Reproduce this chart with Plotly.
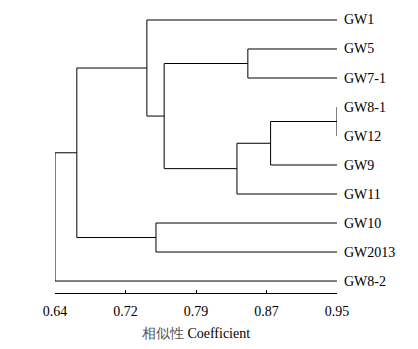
import plotly.graph_objects as go

# ---- data ----
leaves = ["GW1", "GW5", "GW7-1", "GW8-1", "GW12", "GW9", "GW11", "GW10", "GW2013", "GW8-2"]
# merges: (child_a, child_b, similarity); children are leaf names or "m<i>" (earlier merge index)
merge_a = ["GW8-1", "GW5", "m0", "m2", "m1", "GW1", "GW10", "m5", "m7"]
merge_b = ["GW12", "GW7-1", "GW9", "GW11", "m3", "m4", "GW2013", "m6", "GW8-2"]
merge_sim = [0.950, 0.852, 0.877, 0.840, 0.760, 0.741, 0.751, 0.664, 0.640]
tick_vals = [0.64, 0.7175, 0.795, 0.8725, 0.95]
tick_text = ["0.64", "0.72", "0.79", "0.87", "0.95"]
x_min, x_max = 0.64, 0.95

# ---- build dendrogram segments ----
pos = {name: (x_max, i) for i, name in enumerate(leaves)}
xs, ys = [], []
for i, (a, b, s) in enumerate(zip(merge_a, merge_b, merge_sim)):
    xa, ya = pos[a]
    xb, yb = pos[b]
    xs += [s, s, None]; ys += [ya, yb, None]
    xs += [s, xa, None]; ys += [ya, ya, None]
    xs += [s, xb, None]; ys += [yb, yb, None]
    pos["m%d" % i] = (s, (ya + yb) / 2)

SERIF = "'Times New Roman', 'Liberation Serif', 'DejaVu Serif', serif"

fig = go.Figure()
fig.add_trace(go.Scatter(x=xs, y=ys, mode="lines",
                         line=dict(color="black", width=1),
                         hoverinfo="skip", showlegend=False, cliponaxis=False))

for i, name in enumerate(leaves):
    fig.add_annotation(x=1, xref="paper", y=i, yref="y", text=name,
                       showarrow=False, xanchor="left", xshift=5,
                       font=dict(family=SERIF, size=14, color="black"))

title_text = ("<span style=\"color:#555\">相似性</span> "
              "<span style=\"font-family:'Times New Roman','Liberation Serif',serif\">Coefficient</span>")

fig.update_layout(
    width=418, height=349,
    margin=dict(l=55, r=81, t=10, b=56),
    paper_bgcolor="white", plot_bgcolor="white",
    font=dict(family=SERIF, size=13, color="black"),
    xaxis=dict(range=[x_min, x_max], tickvals=tick_vals, ticktext=tick_text,
               showgrid=False, zeroline=False, showline=True, linecolor="black",
               linewidth=1, ticks="inside", ticklen=3, tickcolor="black",
               ticklabelstandoff=5,
               tickfont=dict(family=SERIF, size=14, color="black"),
               title=dict(text=title_text,
                          font=dict(family=SERIF, size=14, color="black"),
                          standoff=10)),
    yaxis=dict(range=[9.413, -0.3445], visible=False, showgrid=False, zeroline=False),
)

fig.write_html("out.html")
